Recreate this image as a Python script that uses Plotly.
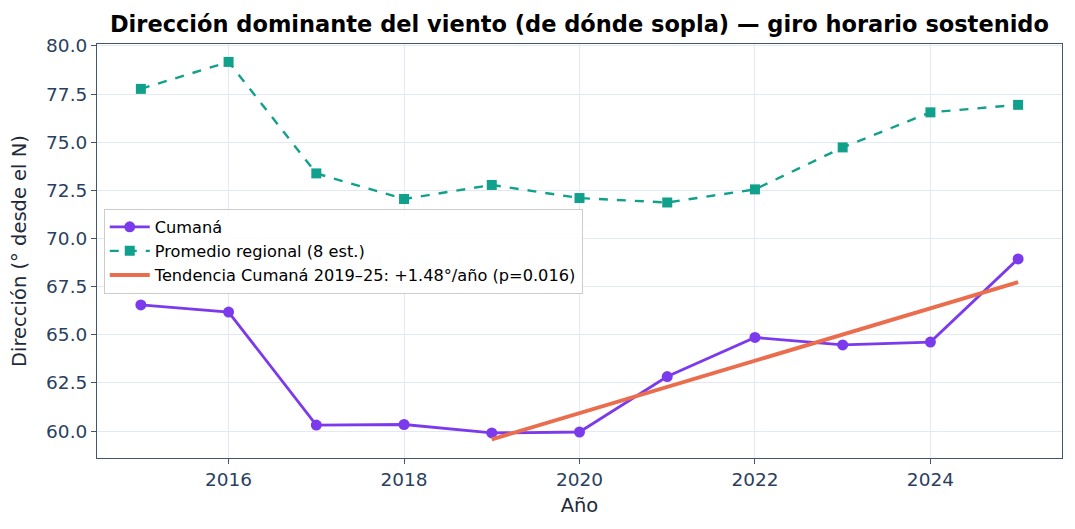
import numpy as np
import plotly.graph_objects as go

years = [2015, 2016, 2017, 2018, 2019, 2020, 2021, 2022, 2023, 2024, 2025]
cumana = [66.55, 66.18, 60.31, 60.34, 59.90, 59.95, 62.83, 64.86, 64.47, 64.62, 68.94]
regional = [77.77, 79.17, 73.38, 72.05, 72.78, 72.10, 71.87, 72.55, 74.73, 76.55, 76.94]
trend_years = [2019, 2025]

# Linear fit on Cumaná 2019–2025
sub_x = [y for y in years if y >= 2019]
sub_y = [v for y, v in zip(years, cumana) if y >= 2019]
slope, intercept = np.polyfit(sub_x, sub_y, 1)
trend_vals = [slope * x + intercept for x in trend_years]

FONT = "DejaVu Sans"
AXIS_COL = "#2a3f5f"

fig = go.Figure()
fig.add_trace(go.Scatter(
    x=years, y=cumana, mode="lines+markers", name="Cumaná",
    line=dict(color="#7c3aed", width=2.8),
    marker=dict(symbol="circle", size=11, color="#7c3aed"),
))
fig.add_trace(go.Scatter(
    x=years, y=regional, mode="lines+markers", name="Promedio regional (8 est.)",
    line=dict(color="#11a08c", width=2.4, dash="dash"),
    marker=dict(symbol="square", size=10, color="#11a08c"),
))
fig.add_trace(go.Scatter(
    x=trend_years, y=trend_vals, mode="lines",
    name="Tendencia Cumaná 2019–25: +1.48°/año (p=0.016)",
    line=dict(color="#ea6e4e", width=4),
))

fig.update_layout(
    width=1075, height=529,
    margin=dict(l=97, r=13, t=44, b=71),
    paper_bgcolor="white", plot_bgcolor="white",
    font=dict(family=FONT, size=18, color=AXIS_COL),
    title=dict(
        text="<b>Dirección dominante del viento (de dónde sopla) — giro horario sostenido</b>",
        x=0.539, xanchor="center", y=1 - 24 / 529, yanchor="middle",
        font=dict(family=FONT, size=22.5, color="black"),
    ),
    legend=dict(
        x=0.007, y=0.602, xanchor="left", yanchor="top",
        bgcolor="rgba(255,255,255,0.9)", bordercolor="#cccccc", borderwidth=1,
        font=dict(family=FONT, size=16.2, color="black"),
        tracegroupgap=0, itemwidth=40,
    ),
    showlegend=True,
)
fig.update_xaxes(
    range=[2014.5, 2025.5], tickvals=[2016, 2018, 2020, 2022, 2024],
    showgrid=True, gridcolor="#e3e9f2", gridwidth=1,
    showline=True, linecolor="#44546a", linewidth=1, mirror=True,
    ticks="outside", ticklen=5, tickcolor="#44546a",
    title=dict(text="Año", font=dict(family=FONT, size=19.5, color="#1e2a38"), standoff=9),
    tickfont=dict(size=18.5, color=AXIS_COL), zeroline=False,
)
fig.update_yaxes(
    range=[58.6, 80.1], tickvals=[60, 62.5, 65, 67.5, 70, 72.5, 75, 77.5, 80],
    tickformat=".1f",
    showgrid=True, gridcolor="#e3e9f2", gridwidth=1,
    showline=True, linecolor="#44546a", linewidth=1, mirror=True,
    ticks="outside", ticklen=5, tickcolor="#44546a",
    title=dict(text="Dirección (° desde el N)", font=dict(family=FONT, size=19.5, color="#1e2a38"), standoff=14),
    tickfont=dict(size=18.5, color=AXIS_COL), zeroline=False,
)

fig.write_html("out.html")
